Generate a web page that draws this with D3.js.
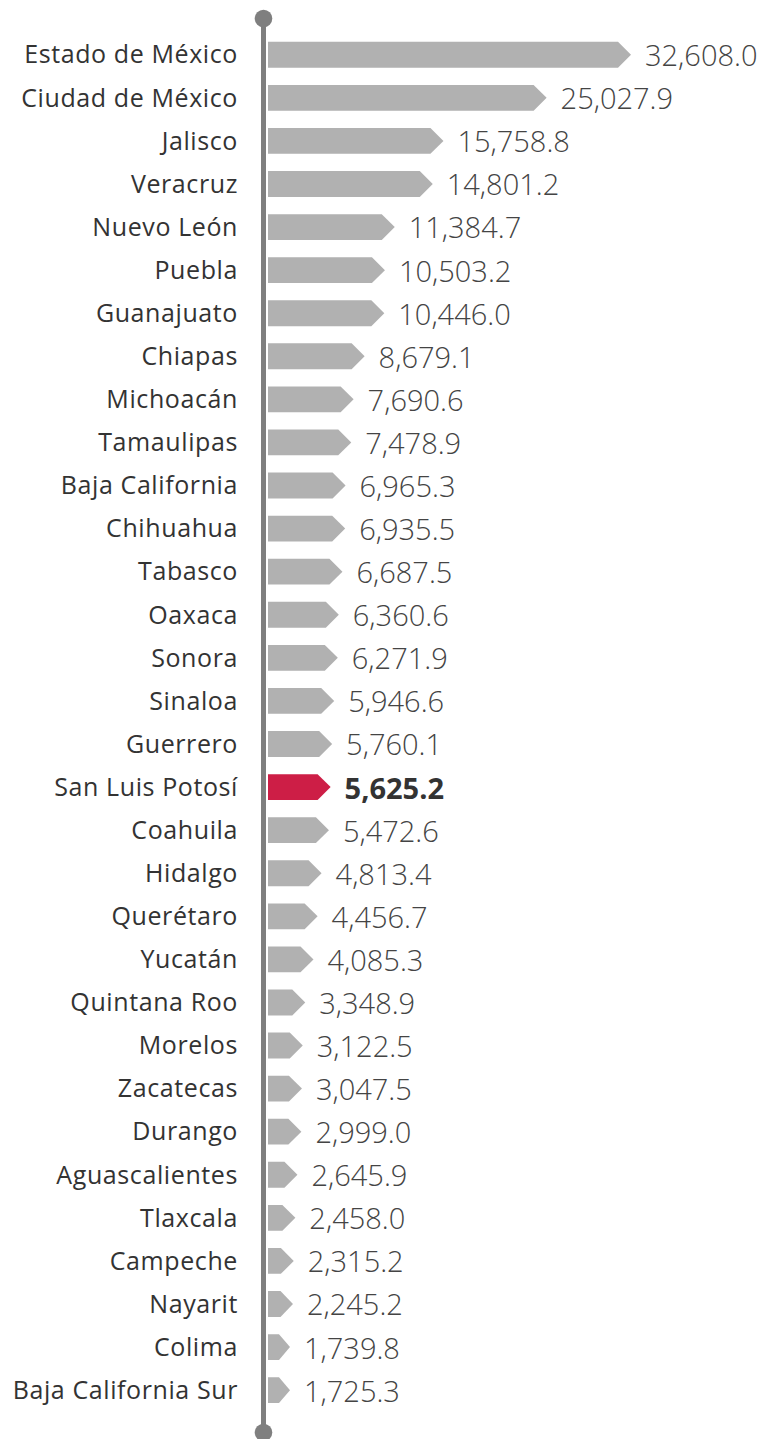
<!DOCTYPE html>
<html>
<head>
<meta charset="utf-8">
<script src="https://cdn.jsdelivr.net/npm/d3@7"></script>
<style>
  html, body { margin: 0; padding: 0; background: #fff; }
  svg { display: block; }
</style>
</head>
<body>
<svg id="chart" width="761" height="1439"></svg>
<script>
// Estados, ordenados de mayor a menor
const states = [
  'Estado de México', 'Ciudad de México', 'Jalisco', 'Veracruz', 'Nuevo León',
  'Puebla', 'Guanajuato', 'Chiapas', 'Michoacán', 'Tamaulipas',
  'Baja California', 'Chihuahua', 'Tabasco', 'Oaxaca', 'Sonora',
  'Sinaloa', 'Guerrero', 'San Luis Potosí', 'Coahuila', 'Hidalgo',
  'Querétaro', 'Yucatán', 'Quintana Roo', 'Morelos', 'Zacatecas',
  'Durango', 'Aguascalientes', 'Tlaxcala', 'Campeche', 'Nayarit',
  'Colima', 'Baja California Sur'
];

const values = [
  32608.0, 25027.9, 15758.8, 14801.2, 11384.7,
  10503.2, 10446.0, 8679.1, 7690.6, 7478.9,
  6965.3, 6935.5, 6687.5, 6360.6, 6271.9,
  5946.6, 5760.1, 5625.2, 5472.6, 4813.4,
  4456.7, 4085.3, 3348.9, 3122.5, 3047.5,
  2999.0, 2645.9, 2458.0, 2315.2, 2245.2,
  1739.8, 1725.3
];

const highlight = 'San Luis Potosí';

const rows = states.map((s, i) => ({ state: s, value: values[i] }));

const svg = d3.select('#chart');
const x0 = 268;     // bars start right of the axis line
const axisX = 263.5;

const x = d3.scaleLinear().domain([0, 32608]).range([x0, x0 + 363]);
const y = d3.scaleBand()
  .domain(states)
  .range([33.2, 1411.7])
  .paddingInner(0.4)
  .paddingOuter(0.2);

const fmt = d3.format(',.1f');
const grey = '#b1b1b1';
const red = '#cd1e46';

// vertical axis with round ends
svg.append('line')
  .attr('x1', axisX).attr('x2', axisX)
  .attr('y1', 18.5).attr('y2', 1432.5)
  .attr('stroke', '#7f7f7f').attr('stroke-width', 5);
svg.append('circle').attr('cx', axisX).attr('cy', 18.5).attr('r', 8.8).attr('fill', '#7f7f7f');
svg.append('circle').attr('cx', axisX).attr('cy', 1432.5).attr('r', 8.8).attr('fill', '#7f7f7f');

// arrow-shaped bars
function tipX(v) { return Math.max(x(v), x0 + 22); }

function arrowPath(v, yTop, h) {
  const tip = tipX(v);
  const depth = Math.min(13, (tip - x0) * 0.5);
  const yMid = yTop + h / 2;
  return `M${x0},${yTop} L${tip - depth},${yTop} L${tip},${yMid} L${tip - depth},${yTop + h} L${x0},${yTop + h} Z`;
}

const row = svg.append('g').selectAll('g')
  .data(rows)
  .join('g');

row.append('path')
  .attr('d', d => arrowPath(d.value, y(d.state), y.bandwidth()))
  .attr('fill', d => d.state === highlight ? red : grey);

// category labels
row.append('text')
  .attr('x', 238)
  .attr('y', d => y(d.state) + y.bandwidth() / 2)
  .attr('dy', '0.35em')
  .attr('text-anchor', 'end')
  .attr('font-family', '"Open Sans", "Noto Sans", sans-serif')
  .attr('font-size', 25)
  .attr('letter-spacing', '0.6px')
  .attr('fill', '#333')
  .text(d => d.state);

// value labels
row.append('text')
  .attr('x', d => tipX(d.value) + 14)
  .attr('y', d => y(d.state) + y.bandwidth() / 2 + 1)
  .attr('dy', '0.36em')
  .attr('font-family', '"Open Sans", "Noto Sans", sans-serif')
  .attr('font-size', 29)
  .attr('font-weight', d => d.state === highlight ? 700 : 300)
  .attr('fill', d => d.state === highlight ? '#333' : '#444')
  .text(d => fmt(d.value));
</script>
</body>
</html>
